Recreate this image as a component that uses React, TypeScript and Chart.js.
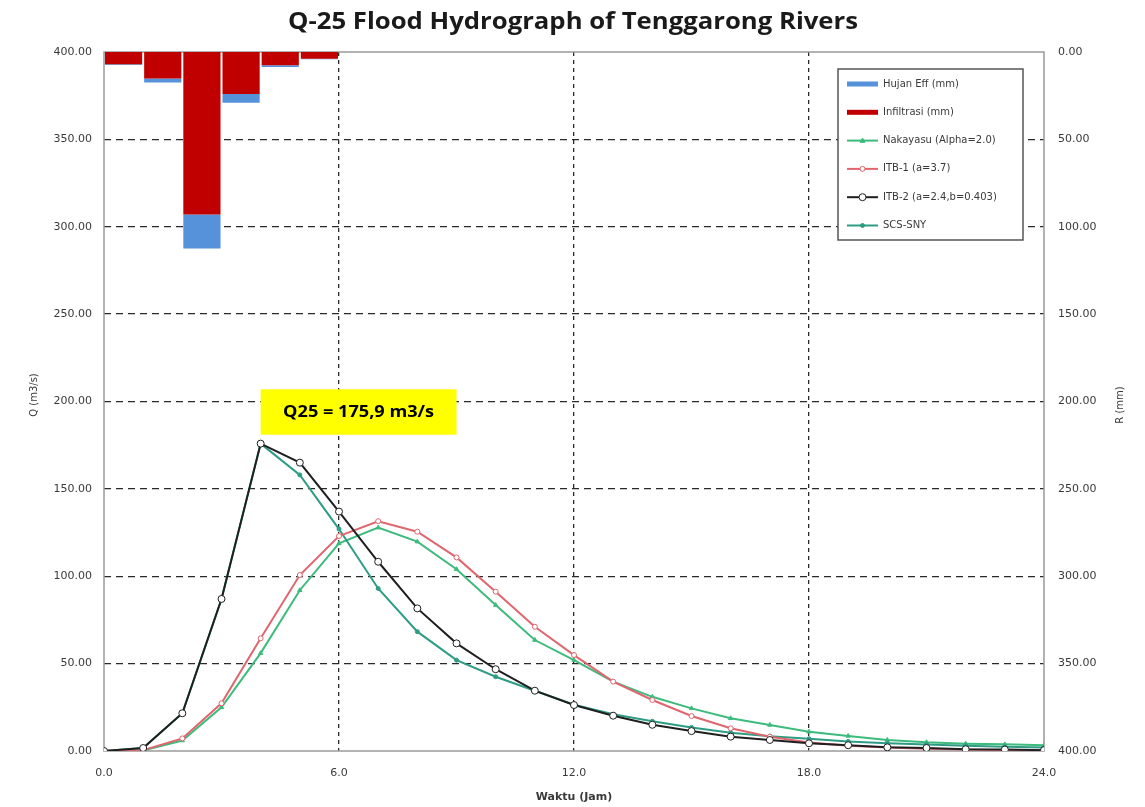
import React, { useEffect, useRef } from "react";
import { Chart, registerables } from "chart.js";

Chart.register(...registerables);

// Time axis (hours) and hourly hydrograph ordinates, Q in m3/s
const hours = [0, 1, 2, 3, 4, 5, 6, 7, 8, 9, 10, 11, 12, 13, 14, 15, 16, 17, 18, 19, 20, 21, 22, 23, 24];
const nakayasu = [0, 0.3, 6, 25, 56, 92, 118.8, 127.8, 119.8, 104, 83.5, 63.5, 52, 39.7, 31, 24.4, 18.7, 14.9, 11, 8.6, 6.3, 5, 4.2, 3.8, 3.3];
const itb1 = [0, 0.5, 7.2, 27.3, 64.5, 100.7, 123, 131.5, 125.5, 110.8, 91.2, 71.1, 54.9, 39.7, 29.2, 20, 13, 8.2, 4.8, 3, 2, 1.3, 0.8, 0.5, 0.3];
const itb2 = [0, 1.7, 21.6, 87, 175.9, 165, 137, 108.3, 81.6, 61.6, 46.8, 34.5, 26.3, 20.2, 15, 11.4, 8.2, 6.3, 4.4, 3.3, 2.1, 1.7, 1.0, 0.8, 0.5];
const scsSny = [0, 1.7, 21.6, 87, 175.9, 158, 127, 93, 68.3, 52, 42.5, 34.5, 26.5, 21, 17, 13.5, 10.5, 8.5, 7, 5.5, 4.5, 3.7, 3.0, 2.5, 2.0];

// Hourly rainfall split (mm), plotted at the middle of each hour
const rainHours = [0.5, 1.5, 2.5, 3.5, 4.5, 5.5];
const infiltrasi = [7.0, 15.2, 93.0, 24.0, 7.6, 3.8];
const hujanEff = [0.5, 2.3, 19.5, 5.0, 1.0, 0.4];

// Axis ranges and labels
const qMax = 400;
const rMax = 400;
const yStep = 50;
const xMax = 24;
const xStep = 6;

const chartTitle = "Q-25 Flood Hydrograph of Tenggarong Rivers";
const qTitle = "Q (m3/s)";
const rTitle = "R (mm)";
const xTitle = "Waktu (Jam)";
const peakText = "Q25 = 175,9 m3/s";
const peakBox = { x0: 4, x1: 9, q0: 181, q1: 207 };

const legendOrder = [1, 0, 2, 3, 4, 5];

const TICK_FONT = { family: "'DejaVu Sans', sans-serif", size: 11 };
const TICK_COLOR = "#3a3a3a";

function fillTextFit(ctx: CanvasRenderingContext2D, text: string, cx: number, cy: number, width: number) {
  const w = ctx.measureText(text).width;
  ctx.save();
  ctx.translate(cx, cy);
  ctx.scale(width / w, 1);
  ctx.textAlign = "center";
  ctx.textBaseline = "middle";
  ctx.fillText(text, 0, 0);
  ctx.restore();
}

const decorPlugin = {
  id: "decor",
  beforeDatasetsDraw(chart: any) {
    const { ctx, chartArea: a } = chart;
    ctx.save();
    ctx.strokeStyle = "#9a9a9a";
    ctx.lineWidth = 1.5;
    ctx.strokeRect(a.left, a.top, a.right - a.left, a.bottom - a.top);
    ctx.restore();
  },
  afterDraw(chart: any) {
    const { ctx, scales } = chart;
    const xs = scales.x;
    const yq = scales.yQ;

    // title
    ctx.save();
    ctx.fillStyle = "#1a1a1a";
    ctx.font = "bold 24px 'Open Sans', sans-serif";
    fillTextFit(ctx, chartTitle, 573, 22, 570);
    ctx.restore();

    // axis titles
    ctx.save();
    ctx.fillStyle = "#3a3a3a";
    ctx.font = "10px 'DejaVu Sans', sans-serif";
    ctx.textAlign = "center";
    ctx.textBaseline = "middle";
    ctx.save();
    ctx.translate(34, 395);
    ctx.rotate(-Math.PI / 2);
    ctx.fillText(qTitle, 0, 0);
    ctx.restore();
    ctx.save();
    ctx.translate(1120, 405);
    ctx.rotate(-Math.PI / 2);
    ctx.fillText(rTitle, 0, 0);
    ctx.restore();
    ctx.font = "bold 11px 'DejaVu Sans', sans-serif";
    ctx.fillText(xTitle, (xs.left + xs.right) / 2, 797);
    ctx.restore();

    // peak annotation
    const bx0 = xs.getPixelForValue(peakBox.x0);
    const bx1 = xs.getPixelForValue(peakBox.x1);
    const by0 = yq.getPixelForValue(peakBox.q1);
    const by1 = yq.getPixelForValue(peakBox.q0);
    ctx.save();
    ctx.fillStyle = "#ffff00";
    ctx.fillRect(bx0, by0, bx1 - bx0, by1 - by0);
    ctx.fillStyle = "#000";
    ctx.font = "bold 16px 'Open Sans', sans-serif";
    fillTextFit(ctx, peakText, (bx0 + bx1) / 2, (by0 + by1) / 2, 151);
    ctx.restore();

    // legend
    const lx = 838, ly = 69, lw = 185, lh = 171;
    ctx.save();
    ctx.fillStyle = "#ffffff";
    ctx.fillRect(lx, ly, lw, lh);
    ctx.strokeStyle = "#555";
    ctx.lineWidth = 1.5;
    ctx.strokeRect(lx, ly, lw, lh);
    ctx.font = "10px 'DejaVu Sans', sans-serif";
    ctx.textAlign = "left";
    ctx.textBaseline = "middle";
    legendOrder.forEach((di, i) => {
      const ds = chart.data.datasets[di];
      const y = ly + 15 + i * 28.3;
      const sx0 = lx + 9, sx1 = lx + 40;
      ctx.save();
      if (ds.type === "bar") {
        ctx.strokeStyle = ds.backgroundColor;
        ctx.lineWidth = 5;
        ctx.beginPath();
        ctx.moveTo(sx0, y);
        ctx.lineTo(sx1, y);
        ctx.stroke();
      } else {
        ctx.strokeStyle = ds.borderColor;
        ctx.lineWidth = ds.borderWidth;
        ctx.beginPath();
        ctx.moveTo(sx0, y);
        ctx.lineTo(sx1, y);
        ctx.stroke();
        const r = ds.pointRadius;
        const cx = (sx0 + sx1) / 2;
        ctx.fillStyle = ds.pointBackgroundColor;
        ctx.strokeStyle = ds.pointBorderColor;
        ctx.lineWidth = ds.pointBorderWidth;
        ctx.beginPath();
        if (ds.pointStyle === "triangle") {
          ctx.moveTo(cx, y - r);
          ctx.lineTo(cx + r, y + r * 0.7);
          ctx.lineTo(cx - r, y + r * 0.7);
          ctx.closePath();
        } else {
          ctx.arc(cx, y, r, 0, Math.PI * 2);
        }
        ctx.fill();
        ctx.stroke();
      }
      ctx.restore();
      ctx.fillStyle = "#3a3a3a";
      ctx.fillText(ds.label, lx + 45, y);
    });
    ctx.restore();
  },
};

const gridColor = (edgeMax: number) => (c: any) => {
  const v = c.tick ? c.tick.value : 0;
  return v === 0 || v === edgeMax ? "rgba(0,0,0,0)" : "#2a2a2a";
};

export default function App() {
  const ref = useRef<HTMLCanvasElement | null>(null);

  useEffect(() => {
    if (!ref.current) return;
    const pts = (arr: number[]) => hours.map((h, i) => ({ x: h, y: arr[i] }));
    const bars = (arr: number[]) => rainHours.map((h, i) => ({ x: h, y: arr[i] }));

    const chart = new Chart(ref.current, {
      type: "line",
      data: {
        datasets: [
          {
            type: "bar",
            label: "Infiltrasi (mm)",
            data: bars(infiltrasi),
            yAxisID: "yR",
            backgroundColor: "#c00000",
            grouped: false,
            barPercentage: 0.95,
            categoryPercentage: 1,
            order: 10,
          },
          {
            type: "bar",
            label: "Hujan Eff (mm)",
            data: bars(hujanEff),
            yAxisID: "yR",
            backgroundColor: "#5592d9",
            grouped: false,
            barPercentage: 0.95,
            categoryPercentage: 1,
            order: 10,
          },
          {
            label: "Nakayasu (Alpha=2.0)",
            data: pts(nakayasu),
            yAxisID: "yQ",
            borderColor: "#3dbb7d",
            borderWidth: 2,
            pointStyle: "triangle",
            pointRadius: 2.5,
            pointBackgroundColor: "#3dbb7d",
            pointBorderColor: "#3dbb7d",
            pointBorderWidth: 1,
            tension: 0,
            order: 4,
          },
          {
            label: "ITB-1 (a=3.7)",
            data: pts(itb1),
            yAxisID: "yQ",
            borderColor: "#e0666e",
            borderWidth: 2,
            pointStyle: "circle",
            pointRadius: 2.5,
            pointBackgroundColor: "#ffffff",
            pointBorderColor: "#e0666e",
            pointBorderWidth: 1,
            tension: 0,
            order: 2,
          },
          {
            label: "ITB-2 (a=2.4,b=0.403)",
            data: pts(itb2),
            yAxisID: "yQ",
            borderColor: "#1f1f1f",
            borderWidth: 2,
            pointStyle: "circle",
            pointRadius: 3.5,
            pointBackgroundColor: "#ffffff",
            pointBorderColor: "#1f1f1f",
            pointBorderWidth: 1,
            tension: 0,
            order: 1,
          },
          {
            label: "SCS-SNY",
            data: pts(scsSny),
            yAxisID: "yQ",
            borderColor: "#2e9c84",
            borderWidth: 2,
            pointStyle: "circle",
            pointRadius: 2,
            pointBackgroundColor: "#2e9c84",
            pointBorderColor: "#2e9c84",
            pointBorderWidth: 1,
            tension: 0,
            order: 3,
          },
        ],
      } as any,
      options: {
        responsive: false,
        animation: false,
        layout: { padding: { top: 52, left: 0, right: 0, bottom: 0 } },
        plugins: { legend: { display: false }, tooltip: { enabled: false }, title: { display: false } },
        scales: {
          x: {
            type: "linear",
            min: 0,
            max: xMax,
            offset: false,
            ticks: {
              stepSize: xStep,
              callback: (v: any) => Number(v).toFixed(1),
              font: TICK_FONT,
              color: TICK_COLOR,
              padding: 16,
              maxRotation: 0,
            },
            grid: { offset: false, color: gridColor(xMax), lineWidth: 1.3, drawTicks: false, borderDash: [4, 4] },
            border: { display: false, dash: [4, 4] },
            afterFit: (s: any) => {
              s.height = 56;
            },
          },
          yQ: {
            type: "linear",
            position: "left",
            min: 0,
            max: qMax,
            ticks: {
              stepSize: yStep,
              callback: (v: any) => Number(v).toFixed(2),
              font: TICK_FONT,
              color: TICK_COLOR,
              padding: 12,
            },
            grid: { color: gridColor(qMax), lineWidth: 1.3, drawTicks: false, borderDash: [7, 5] },
            border: { display: false, dash: [7, 5] },
            afterFit: (s: any) => {
              s.width = 104;
            },
          },
          yR: {
            type: "linear",
            position: "right",
            min: 0,
            max: rMax,
            reverse: true,
            stacked: true,
            ticks: {
              stepSize: yStep,
              callback: (v: any) => Number(v).toFixed(2),
              font: TICK_FONT,
              color: TICK_COLOR,
              padding: 14,
            },
            grid: { display: false, drawTicks: false },
            border: { display: false },
            afterFit: (s: any) => {
              s.width = 101;
            },
          },
        },
      } as any,
      plugins: [decorPlugin],
    });
    return () => chart.destroy();
  }, []);

  return (
    <div style={{ position: "absolute", left: 0, top: 0, width: 1145, height: 807, background: "#fff" }}>
      <canvas ref={ref} width={1145} height={807} />
    </div>
  );
}
